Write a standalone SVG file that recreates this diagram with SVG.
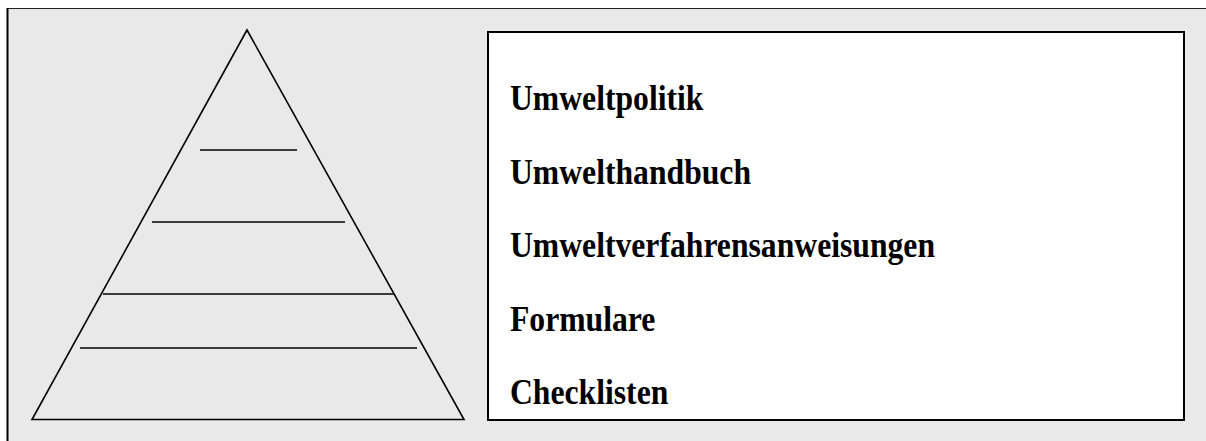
<svg xmlns="http://www.w3.org/2000/svg" width="1206" height="441" viewBox="0 0 1206 441">
<style>
.ln{stroke:#000;stroke-width:1.6;fill:none}
.lbl{font-family:"Liberation Serif","Times New Roman",serif;font-weight:bold;font-size:35px;fill:#000}
</style>
<rect x="0" y="0" width="1206" height="441" fill="#fff"/>
<g id="frame">
<rect x="8" y="8.5" width="1210" height="440" fill="#e9e9e9" stroke="none"/>
<line x1="8" y1="8.5" x2="1206" y2="8.5" stroke="#222" stroke-width="1.2"/>
<line x1="7.5" y1="8" x2="7.5" y2="441" stroke="#000" stroke-width="2"/>
</g>
<g id="pyramid">
<polygon class="ln" points="247,30 32,419.5 464,419.5" stroke-linejoin="miter"/>
<line class="ln" x1="200" y1="150" x2="297" y2="150"/>
<line class="ln" x1="152" y1="222" x2="345" y2="222"/>
<line class="ln" x1="103" y1="294" x2="394" y2="294"/>
<line class="ln" x1="80" y1="348" x2="417" y2="348"/>
</g>
<g id="legend">
<rect x="488" y="32" width="696" height="388" fill="#fff" stroke="#000" stroke-width="2"/>
<g transform="translate(510,0) scale(0.905,1)">
<text class="lbl" x="0" y="110">Umweltpolitik</text>
<text class="lbl" x="0" y="184">Umwelthandbuch</text>
<text class="lbl" x="0" y="257">Umweltverfahrensanweisungen</text>
<text class="lbl" x="0" y="331">Formulare</text>
<text class="lbl" x="0" y="404">Checklisten</text>
</g>
</g>
<g id="connectors"></g>
</svg>
